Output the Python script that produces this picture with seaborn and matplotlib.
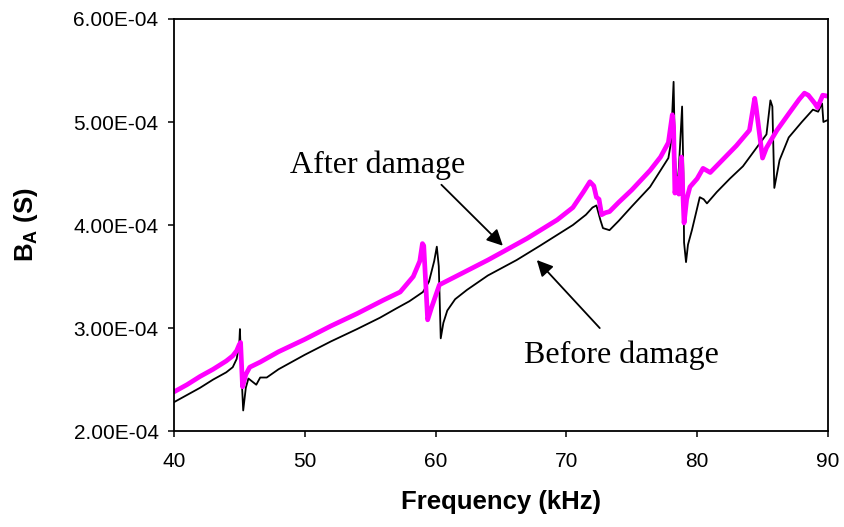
import numpy as np
import pandas as pd
import matplotlib
matplotlib.use("Agg")
import matplotlib.pyplot as plt
import seaborn as sns
from matplotlib.ticker import FuncFormatter

# after damage (magenta), values in 1e-4 S
after_freq = [40.0, 41.0, 42.0, 43.0, 44.0, 44.5, 44.8, 45.0, 45.1, 45.25, 45.5, 45.8,
              46.6, 48.0, 50.0, 52.0, 54.0, 56.0, 57.3, 58.3, 58.8, 59.0, 59.1, 59.4,
              59.7, 60.3, 62.0, 64.0, 65.15, 67.0, 69.3, 70.5, 71.3, 71.8, 72.1, 72.3,
              72.5, 72.7, 73.0, 73.3, 74.0, 75.0, 76.4, 77.2, 77.8, 78.1, 78.2, 78.3,
              78.5, 78.6, 78.8, 79.0, 79.2, 79.45, 80.0, 80.45, 81.0, 82.0, 83.0, 84.0,
              84.4, 84.5, 85.0, 85.3, 86.1, 87.0, 87.8, 88.2, 88.5, 89.0, 89.2, 89.6, 90.0]
after_ba = [2.38, 2.45, 2.53, 2.60, 2.68, 2.73, 2.78, 2.84, 2.86, 2.43, 2.55, 2.62,
            2.67, 2.77, 2.89, 3.02, 3.14, 3.27, 3.35, 3.50, 3.65, 3.82, 3.80, 3.08,
            3.20, 3.42, 3.53, 3.66, 3.74, 3.87, 4.05, 4.17, 4.32, 4.42, 4.38, 4.27,
            4.25, 4.10, 4.12, 4.13, 4.22, 4.34, 4.53, 4.66, 4.80, 5.07, 4.95, 4.31,
            4.45, 4.30, 4.66, 4.02, 4.25, 4.37, 4.45, 4.55, 4.51, 4.64, 4.77, 4.92,
            5.23, 5.15, 4.65, 4.75, 4.92, 5.08, 5.22, 5.28, 5.26, 5.18, 5.14, 5.26, 5.25]

# before damage (black)
before_freq = [40.0, 41.0, 42.0, 43.0, 44.0, 44.5, 44.8, 45.0, 45.05, 45.15, 45.3, 45.5,
               45.7, 46.0, 46.3, 46.6, 47.1, 48.0, 50.0, 52.0, 54.0, 55.75, 57.0, 58.0,
               59.04, 59.5, 59.9, 60.1, 60.25, 60.4, 60.6, 60.9, 61.5, 62.4, 64.0, 66.2,
               68.0, 70.5, 71.5, 72.0, 72.3, 72.6, 72.8, 73.3, 74.0, 75.0, 76.4, 77.2,
               77.8, 78.0, 78.2, 78.3, 78.45, 78.6, 78.85, 78.95, 79.0, 79.15, 79.3, 79.6,
               80.2, 80.5, 80.75, 81.5, 82.5, 83.5, 84.6, 85.3, 85.5, 85.6, 85.75, 85.9,
               86.3, 87.0, 88.0, 88.85, 89.25, 89.55, 89.65, 90.0]
before_ba = [2.28, 2.35, 2.42, 2.50, 2.57, 2.62, 2.70, 2.85, 2.99, 2.60, 2.20, 2.42,
             2.51, 2.48, 2.45, 2.52, 2.52, 2.60, 2.74, 2.87, 2.99, 3.10, 3.19, 3.26,
             3.35, 3.45, 3.65, 3.79, 3.60, 2.90, 3.05, 3.17, 3.28, 3.37, 3.51, 3.66,
             3.80, 4.00, 4.10, 4.17, 4.19, 4.05, 3.97, 3.95, 4.04, 4.18, 4.37, 4.53,
             4.65, 4.80, 5.39, 4.70, 4.34, 4.55, 5.15, 4.50, 3.83, 3.64, 3.81, 3.95,
             4.27, 4.25, 4.21, 4.32, 4.45, 4.57, 4.76, 4.88, 5.10, 5.21, 5.15, 4.36,
             4.63, 4.85, 5.00, 5.12, 5.10, 5.18, 5.00, 5.02]

x_ticks = [40, 50, 60, 70, 80, 90]
y_ticks = [2e-4, 3e-4, 4e-4, 5e-4, 6e-4]

before = pd.DataFrame({"f": before_freq, "ba": np.array(before_ba) * 1e-4})
after = pd.DataFrame({"f": after_freq, "ba": np.array(after_ba) * 1e-4})

sns.set_style("ticks", {"text.color": "black", "axes.labelcolor": "black",
                        "xtick.color": "black", "ytick.color": "black",
                        "axes.edgecolor": "black"})
plt.rcParams["font.family"] = ["Liberation Sans", "DejaVu Sans"]
plt.rcParams["mathtext.fontset"] = "custom"
plt.rcParams["mathtext.bf"] = "Liberation Sans:bold"
plt.rcParams["mathtext.rm"] = "Liberation Sans"

fig, ax = plt.subplots(figsize=(8.44, 5.27), dpi=100)

sns.lineplot(data=before, x="f", y="ba", sort=False, color="black", linewidth=1.3, ax=ax)
sns.lineplot(data=after, x="f", y="ba", sort=False, color="#ff00ff", linewidth=3.4, ax=ax)

ax.set_xlim(40, 90)
ax.set_ylim(2e-4, 6e-4)
ax.set_xticks(x_ticks)
ax.set_yticks(y_ticks)
ax.yaxis.set_major_formatter(FuncFormatter(lambda v, p: f"{v:.2E}"))
ax.tick_params(labelsize=15, length=4, width=1.1, colors="black", direction="out")
ax.tick_params(axis="x", pad=11)
ax.tick_params(axis="y", pad=7)
for s in ax.spines.values():
    s.set_visible(True)
    s.set_linewidth(1.3)
    s.set_color("black")

ax.set_xlabel("Frequency (kHz)", fontsize=18.5, fontweight="bold", labelpad=14, color="black")
ax.set_ylabel(r"$\mathbf{B_A}$ (S)", fontsize=18.5, fontweight="bold", labelpad=24, color="black")

serif = ["Liberation Serif", "DejaVu Serif"]
ax.annotate("", xy=(65.3, 3.78e-4), xytext=(60.3, 4.41e-4),
            arrowprops=dict(arrowstyle="-|>", color="black", lw=1.3, mutation_scale=24))
ax.text(55.6, 4.58e-4, "After damage", family=serif, fontsize=23, ha="center", va="center",
        color="black")
ax.annotate("", xy=(67.6, 3.68e-4), xytext=(72.7, 2.98e-4),
            arrowprops=dict(arrowstyle="-|>", color="black", lw=1.3, mutation_scale=24))
ax.text(74.25, 2.74e-4, "Before damage", family=serif, fontsize=23, ha="center", va="center",
        color="black")

plt.subplots_adjust(left=0.206, right=0.981, top=0.964, bottom=0.182)
fig.savefig("out.png", dpi=100)
